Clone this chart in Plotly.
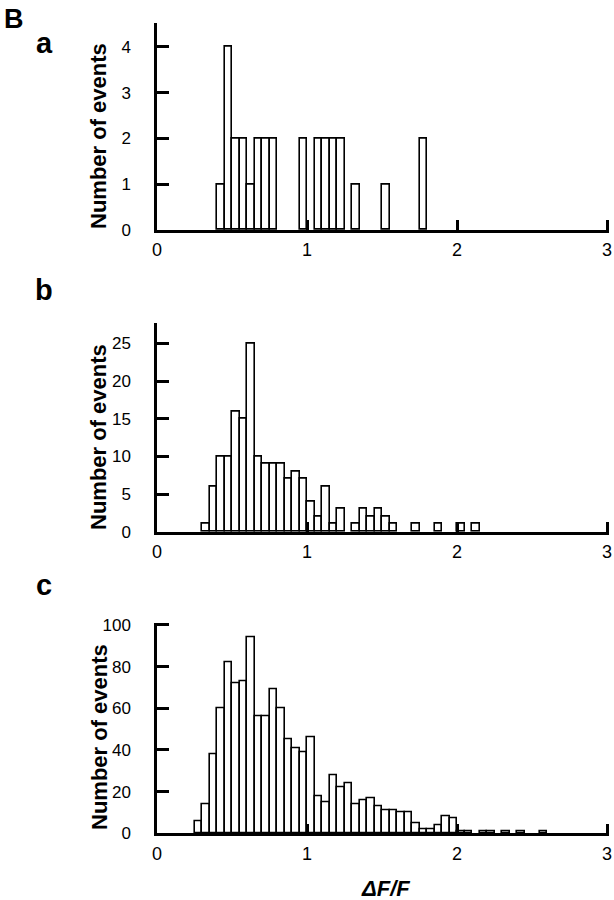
import plotly.graph_objects as go

W, H = 614, 900
BIN = 0.05

# Panel a
a_edges = [0.40, 0.45, 0.50, 0.55, 0.60, 0.65, 0.70, 0.75, 0.95, 1.05, 1.10, 1.15, 1.20, 1.30, 1.50, 1.75]
a_counts = [1, 4, 2, 2, 1, 2, 2, 2, 2, 2, 2, 2, 2, 1, 1, 2]

# Panel b
b_edges = [0.30, 0.35, 0.40, 0.45, 0.50, 0.55, 0.60, 0.65, 0.70, 0.75, 0.80, 0.85, 0.90,
           0.95, 1.00, 1.05, 1.10, 1.15, 1.20, 1.30, 1.35, 1.40, 1.45, 1.50, 1.55,
           1.70, 1.85, 2.00, 2.10]
b_counts = [1, 6, 10, 10, 16, 15, 25, 10, 9, 9, 9, 7, 8,
            7, 4, 2, 6, 1, 3, 1, 3, 2, 3, 2, 1,
            1, 1, 1, 1]

# Panel c
c_edges = [0.25, 0.30, 0.35, 0.40, 0.45, 0.50, 0.55, 0.60, 0.65, 0.70, 0.75, 0.80, 0.85,
           0.90, 0.95, 1.00, 1.05, 1.10, 1.15, 1.20, 1.25, 1.30, 1.35, 1.40, 1.45,
           1.50, 1.55, 1.60, 1.65, 1.70, 1.75, 1.80, 1.85, 1.90, 1.95, 2.00, 2.05,
           2.15, 2.20, 2.30, 2.40, 2.55]
c_counts = [6, 14, 38, 60, 82, 72, 73, 94, 56, 56, 69, 60, 45,
            41, 39, 46, 18, 15, 28, 22, 24, 14, 16, 17, 13,
            11, 11, 10, 10, 5, 2, 2, 4, 8, 7, 1, 1,
            1, 1, 1, 1, 1]

x_ticks = [0, 1, 2, 3]
a_yticks = [0, 1, 2, 3, 4]
b_yticks = [0, 5, 10, 15, 20, 25]
c_yticks = [0, 20, 40, 60, 80, 100]

panel_letters = ["a", "b", "c"]
y_title = "Number of events"
x_title = "ΔF/F"

FONT = "Liberation Sans, Arial, Helvetica, sans-serif"


def px_x(p):
    return p / W


def px_y(p):
    return 1 - p / H


X_MAX = 3.012
x_dom = [px_x(157), px_x(157 + 150 * X_MAX)]
panels = [
    dict(edges=a_edges, counts=a_counts, top=22.7, bottom=230.0, yrange=[0, 4.53], yticks=a_yticks),
    dict(edges=b_edges, counts=b_counts, top=322.7, bottom=531.7, yrange=[0, 27.75], yticks=b_yticks),
    dict(edges=c_edges, counts=c_counts, top=623.3, bottom=833.3, yrange=[0, 100.8], yticks=c_yticks),
]

fig = go.Figure()
layout = dict(
    width=W, height=H,
    margin=dict(l=0, r=0, t=0, b=0, autoexpand=False),
    paper_bgcolor="white", plot_bgcolor="white",
    showlegend=False, bargap=0,
    font=dict(family=FONT, color="black", size=17),
)

for i, p in enumerate(panels):
    n = "" if i == 0 else str(i + 1)
    centers = [e + BIN / 2 for e in p["edges"]]
    fig.add_trace(go.Bar(
        x=centers, y=p["counts"], width=BIN,
        marker=dict(color="white", line=dict(color="black", width=1.6)),
        xaxis="x" + n, yaxis="y" + n, hoverinfo="skip", cliponaxis=False,
    ))
    layout["xaxis" + n] = dict(
        domain=x_dom, anchor="y" + n, range=[0, X_MAX],
        tickmode="array", tickvals=x_ticks, ticktext=[str(t) for t in x_ticks],
        ticks="inside", ticklen=10, tickwidth=2.5, tickcolor="black",
        showline=True, linewidth=2.5, linecolor="black",
        showgrid=False, zeroline=False, ticklabelstandoff=2, automargin=False,
        tickfont=dict(size=18, family=FONT),
    )
    layout["yaxis" + n] = dict(
        domain=[px_y(p["bottom"]), px_y(p["top"])], anchor="x" + n, range=p["yrange"],
        tickmode="array", tickvals=p["yticks"], ticktext=[str(t) for t in p["yticks"]],
        ticks="inside", ticklen=12, tickwidth=2.5, tickcolor="black",
        showline=True, linewidth=2.5, linecolor="black",
        showgrid=False, zeroline=False, ticklabelstandoff=20, automargin=False,
        tickfont=dict(size=17, family=FONT),
    )

annotations = []
annotations.append(dict(text="<b>B</b>", x=px_x(14), y=px_y(19), xref="paper", yref="paper",
                        showarrow=False, font=dict(size=27, family=FONT), xanchor="center", yanchor="middle"))
letter_pos = [(44, 43), (44, 290), (44, 585)]
title_pos = [136, 437, 737]
for i, (lx, ly) in enumerate(letter_pos):
    annotations.append(dict(text="<b>%s</b>" % panel_letters[i], x=px_x(lx), y=px_y(ly),
                            xref="paper", yref="paper", showarrow=False,
                            font=dict(size=29, family=FONT), xanchor="center", yanchor="middle"))
    annotations.append(dict(text="<b>%s</b>" % y_title, x=px_x(99), y=px_y(title_pos[i]),
                            xref="paper", yref="paper", showarrow=False, textangle=-90,
                            font=dict(size=22, family=FONT), xanchor="center", yanchor="middle"))
annotations.append(dict(text="<b><i>%s</i></b>" % x_title, x=px_x(386), y=px_y(888),
                        xref="paper", yref="paper", showarrow=False,
                        font=dict(size=22, family=FONT), xanchor="center", yanchor="middle"))
layout["annotations"] = annotations

fig.update_layout(**layout)
fig.write_html("out.html", config={"displayModeBar": False},
               post_script="document.body.style.margin='0';document.body.style.padding='0';")
